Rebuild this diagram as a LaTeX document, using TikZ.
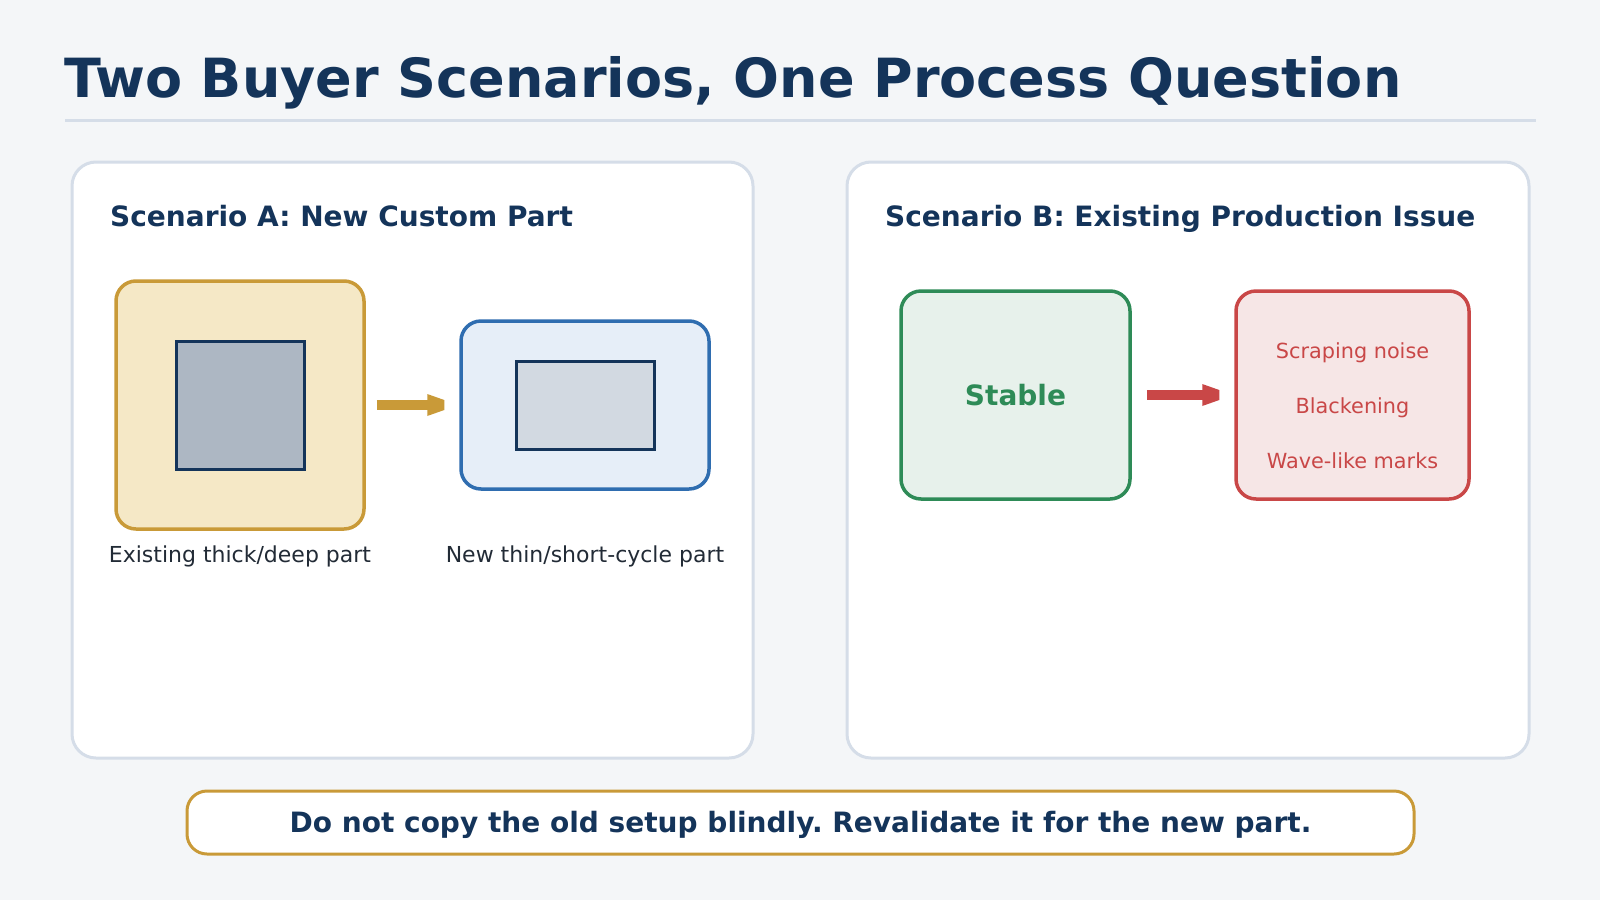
\documentclass[tikz,border=0pt]{standalone}
\usepackage{fontspec}
\setmainfont{DejaVu Sans}
\frenchspacing
\definecolor{bg}{HTML}{F4F6F8}
\definecolor{navy}{HTML}{14345A}
\definecolor{rulec}{HTML}{D5DDE8}
\definecolor{gold}{HTML}{C99A38}
\definecolor{goldfill}{HTML}{F5E8C6}
\definecolor{slate}{HTML}{ADB7C3}
\definecolor{blueS}{HTML}{2F6DB0}
\definecolor{bluefill}{HTML}{E6EEF8}
\definecolor{lightslate}{HTML}{D2D9E1}
\definecolor{greenS}{HTML}{2E8B57}
\definecolor{greenfill}{HTML}{E7F1EB}
\definecolor{redS}{HTML}{C94747}
\definecolor{redfill}{HTML}{F6E6E6}
\definecolor{ink}{HTML}{222B36}
\tikzset{
  panel/.style={draw=rulec, line width=3, fill=white, rounded corners=24, inner sep=0},
  card/.style={line width=3.5, rounded corners=20, inner sep=0},
  part/.style={draw=navy, line width=3, inner sep=0},
  heading/.style={anchor=base west, inner sep=0, text=navy, font=\fontsize{28}{32}\selectfont\bfseries},
  caption/.style={anchor=base, inner sep=0, text=ink, font=\fontsize{22}{26}\selectfont},
  symptom/.style={anchor=base, inner sep=0, text=redS, font=\fontsize{20.8}{24}\selectfont},
  fatarrow/.style={line width=10},
}
\begin{document}
\begin{tikzpicture}[x=1pt,y=-1pt]
\fill[bg] (0,0) rectangle (1600,900);
\useasboundingbox (0,0) rectangle (1600,900);
% title
\node[anchor=base west, inner sep=0, text=navy, font=\fontsize{54}{60}\selectfont\bfseries] (title) at (64,97) {Two Buyer Scenarios, One Process Question};
\coordinate (r1) at (65,120);
\coordinate (r2) at (1536,120);
\draw[rulec, line width=3] (r1) -- (r2);
% panels
\node[panel, minimum width=681, minimum height=596] (pA) at (412.5,460) {};
\node[panel, minimum width=682, minimum height=596] (pB) at (1188,460) {};
\node[heading] (hA) at (110,226) {Scenario A: New Custom Part};
\node[heading] (hB) at (885,226) {Scenario B: Existing Production Issue};
% scenario A
\node[card, draw=gold, fill=goldfill, minimum width=248, minimum height=248] (old) at (240,405) {};
\node[part, fill=slate, minimum width=128, minimum height=128] (oldin) at (240,405) {};
\node[card, draw=blueS, fill=bluefill, minimum width=248, minimum height=168] (new) at (585,405) {};
\node[part, fill=lightslate, minimum width=138, minimum height=88] (newin) at (585,405) {};
\node[caption] (capA) at (240,562) {Existing thick/deep part};
\node[caption] (capB) at (585,562) {New thin/short-cycle part};
\draw[gold, fatarrow] ([xshift=11]old.east) -- ([xshift=-15]new.west) coordinate (ga);
\fill[gold] (ga) ++(-17,-11) -- ++(17,6) -- ++(0,10) -- ++(-17,6) -- cycle;
% scenario B
\node[card, draw=greenS, fill=greenfill, minimum width=229, minimum height=208] (stable) at (1015.5,395) {};
\node[anchor=base, inner sep=0, text=greenS, font=\fontsize{28}{32}\selectfont\bfseries] (stt) at (1015.5,405) {Stable};
\node[card, draw=redS, fill=redfill, minimum width=233, minimum height=208] (issue) at (1352.5,395) {};
\node[symptom] (s1) at (1352.5,358) {Scraping noise};
\node[symptom] (s2) at (1352.5,413) {Blackening};
\node[symptom] (s3) at (1352.5,468) {Wave-like marks};
\draw[redS, fatarrow] ([xshift=15]stable.east) -- ([xshift=-15]issue.west) coordinate (ra);
\fill[redS] (ra) ++(-17,-11) -- ++(17,6) -- ++(0,10) -- ++(-17,6) -- cycle;
% banner
\node[draw=gold, line width=3, fill=white, rounded corners=20, inner sep=0, minimum width=1227, minimum height=63] (banner) at (800.5,822.5) {};
\node[anchor=base, inner sep=0, text=navy, font=\fontsize{28}{32}\selectfont\bfseries] (msg) at (800.5,832) {Do not copy the old setup blindly. Revalidate it for the new part.};
\end{tikzpicture}
\end{document}
